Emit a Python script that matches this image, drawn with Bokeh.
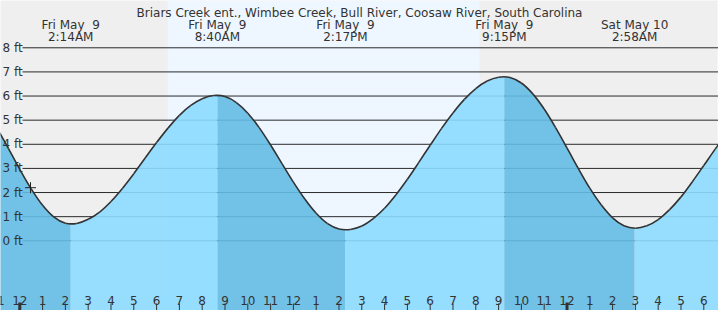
from bokeh.plotting import figure
from bokeh.embed import file_html
from bokeh.resources import INLINE
from bokeh.core.properties import value

# ---------------- data ----------------
TITLE = "Briars Creek ent., Wimbee Creek, Bull River, Coosaw River, South Carolina"

# hours since midnight Fri May 9 (half-hourly readings of the tide curve)
HOURS = [-1.0, -0.5, 0.0, 0.5, 1.0, 1.5, 2.0, 2.5, 3.0, 3.5, 4.0, 4.5, 5.0, 5.5,
         6.0, 6.5, 7.0, 7.5, 8.0, 8.5, 9.0, 9.5, 10.0, 10.5, 11.0, 11.5, 12.0,
         12.5, 13.0, 13.5, 14.0, 14.5, 15.0, 15.5, 16.0, 16.5, 17.0, 17.5, 18.0,
         18.5, 19.0, 19.5, 20.0, 20.5, 21.0, 21.5, 22.0, 22.5, 23.0, 23.5, 24.0,
         24.5, 25.0, 25.5, 26.0, 26.5, 27.0, 27.5, 28.0, 28.5, 29.0, 29.5, 30.0,
         30.5, 31.0]
HEIGHTS = [4.68, 3.83, 2.96, 2.15, 1.47, 0.98, 0.73, 0.72, 0.89, 1.19, 1.63, 2.17,
           2.78, 3.43, 4.07, 4.67, 5.20, 5.61, 5.89, 6.02, 5.98, 5.73, 5.29, 4.69,
           3.97, 3.20, 2.43, 1.73, 1.14, 0.71, 0.49, 0.47, 0.61, 0.92, 1.35, 1.91,
           2.55, 3.25, 3.96, 4.66, 5.30, 5.86, 6.31, 6.62, 6.78, 6.77, 6.54, 6.09,
           5.46, 4.69, 3.85, 2.99, 2.18, 1.49, 0.95, 0.62, 0.52, 0.62, 0.88, 1.29,
           1.82, 2.45, 3.12, 3.80, 4.44]

# high / low tides
EXT_HOURS = [2.233, 8.667, 14.283, 21.25, 26.967]
EXT_HEIGHTS = [0.70, 6.03, 0.45, 6.80, 0.52]
EXT_DATES = ["Fri May \u00a09", "Fri May \u00a09", "Fri May \u00a09", "Fri May \u00a09",
             "Sat May 10"]
EXT_TIMES = ["2:14AM", "8:40AM", "2:17PM", "9:15PM", "2:58AM"]

# daylight (sunrise, sunset) in hours
DAY_START = [6.48, 30.58]
DAY_END = [20.16, 32.0]

# "now" marker
NOW_HOUR = [0.47]
NOW_HEIGHT = [2.2]

FT_LEVELS = [0, 1, 2, 3, 4, 5, 6, 7, 8]
FT_LABELS = ["0 ft", "1 ft", "2 ft", "3 ft", "4 ft", "5 ft", "6 ft", "7 ft", "8 ft"]

HOUR_TICKS = [-1, 0, 1, 2, 3, 4, 5, 6, 7, 8, 9, 10, 11, 12, 13, 14, 15, 16, 17, 18,
              19, 20, 21, 22, 23, 24, 25, 26, 27, 28, 29, 30]
HOUR_LABELS = ["11", "12", "1", "2", "3", "4", "5", "6", "7", "8", "9", "10", "11",
               "12", "1", "2", "3", "4", "5", "6", "7", "8", "9", "10", "11",
               "12", "1", "2", "3", "4", "5", "6"]
MIDNIGHTS = [0, 24]

# ---------------- layout ----------------
W, H = 718, 310
PX_PER_HR = 22.8
PX_PER_FT = 24.125
X0 = -0.846
X1 = X0 + W / PX_PER_HR
Y1 = 9.96
Y0 = Y1 - H / PX_PER_FT


def fx(px):
    return X0 + px / PX_PER_HR


def fy(px):
    return Y1 - px / PX_PER_FT


FONT = value("DejaVu Sans")
TXT = "#333333"
NIGHT = "#efefef"
DAYC = "#eef7ff"
LIGHT = "#8cdaff"
DARK = "#64bbe5"

p = figure(width=W, height=H, x_range=(X0, X1), y_range=(Y0, Y1),
           toolbar_location=None, output_backend="svg", min_border=0,
           x_axis_location=None, y_axis_location=None,
           background_fill_color=NIGHT, border_fill_color=NIGHT,
           outline_line_color=None)
p.grid.visible = False

# daylight bands
p.quad(left=DAY_START, right=DAY_END, bottom=Y0, top=Y1,
       fill_color=DAYC, line_color=None)

# horizontal grid lines
p.segment(x0=fx(22), x1=X1, y0=FT_LEVELS, y1=FT_LEVELS,
          line_color="#2a2a2a", line_width=1)

# fill under the curve, split at the high / low tides
pts = sorted(set(zip(HOURS, HEIGHTS)) | set(zip(EXT_HOURS, EXT_HEIGHTS)))
bounds = [X0 - 1] + EXT_HOURS + [X1 + 1]
for i in range(len(bounds) - 1):
    a, b = bounds[i], bounds[i + 1]
    seg = [(t, h) for (t, h) in pts if a <= t <= b]
    if len(seg) < 2:
        continue
    falling = seg[-1][1] < seg[0][1]
    p.varea(x=[s[0] for s in seg], y1=Y0, y2=[s[1] for s in seg],
            fill_color=DARK if falling else LIGHT, fill_alpha=0.9)

# tide curve drawn as smooth (Catmull-Rom) bezier pieces through the readings
n = len(HOURS)
bx0, by0, bx1, by1, cx0, cy0, cx1, cy1 = ([] for _ in range(8))
for i in range(n - 1):
    im, ip2 = max(i - 1, 0), min(i + 2, n - 1)
    bx0.append(HOURS[i]); by0.append(HEIGHTS[i])
    bx1.append(HOURS[i + 1]); by1.append(HEIGHTS[i + 1])
    cx0.append(HOURS[i] + (HOURS[i + 1] - HOURS[im]) / 6)
    cy0.append(HEIGHTS[i] + (HEIGHTS[i + 1] - HEIGHTS[im]) / 6)
    cx1.append(HOURS[i + 1] - (HOURS[ip2] - HOURS[i]) / 6)
    cy1.append(HEIGHTS[i + 1] - (HEIGHTS[ip2] - HEIGHTS[i]) / 6)
p.bezier(x0=bx0, y0=by0, x1=bx1, y1=by1, cx0=cx0, cy0=cy0, cx1=cx1, cy1=cy1,
         line_color="#333333", line_width=1.6)

# y labels
p.text(x=[fx(2)] * len(FT_LEVELS), y=FT_LEVELS, text=FT_LABELS,
       text_font=FONT, text_font_size="12px", text_color=TXT,
       text_baseline="middle", text_align="left")

# title and extreme labels
p.text(x=[fx(W / 2)], y=[fy(12)], text=[TITLE], text_font=FONT,
       text_font_size="12px", text_color=TXT, text_align="center",
       text_baseline="alphabetic")
p.text(x=EXT_HOURS, y=[fy(24)] * len(EXT_HOURS), text=EXT_DATES, text_font=FONT,
       text_font_size="12px", text_color=TXT, text_align="center",
       text_baseline="alphabetic")
p.text(x=EXT_HOURS, y=[fy(36)] * len(EXT_HOURS), text=EXT_TIMES, text_font=FONT,
       text_font_size="12px", text_color=TXT, text_align="center",
       text_baseline="alphabetic")

# hour ticks and labels
p.segment(x0=HOUR_TICKS, x1=HOUR_TICKS, y0=Y0, y1=fy(303),
          line_color="#333333", line_width=1)
p.segment(x0=MIDNIGHTS, x1=MIDNIGHTS, y0=Y0, y1=fy(302),
          line_color="#333333", line_width=3)
p.text(x=HOUR_TICKS, y=[fy(300)] * len(HOUR_TICKS), text=HOUR_LABELS,
       text_font=FONT, text_font_size="12px", text_color=TXT,
       text_align="center", text_baseline="alphabetic")

# now marker
p.scatter(x=NOW_HOUR, y=NOW_HEIGHT, marker="cross", size=11,
          line_color="#222222", line_width=1)

open("out.html", "w").write(file_html(p, INLINE))
